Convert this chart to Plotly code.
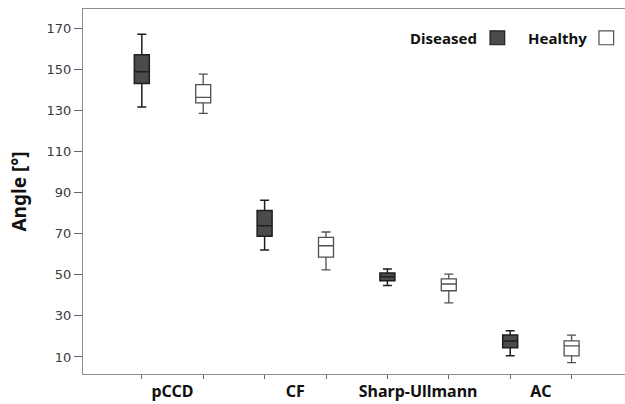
import plotly.graph_objects as go

categories = ["pCCD", "CF", "Sharp-Ullmann", "AC"]

# Diseased: lower whisker, Q1, median, Q3, upper whisker
dis_low = [131.6, 62.0, 44.8, 10.6]
dis_q1 = [143.0, 68.7, 47.1, 14.5]
dis_med = [148.8, 73.8, 49.0, 17.8]
dis_q3 = [157.0, 81.2, 50.8, 20.7]
dis_high = [167.0, 86.2, 52.8, 22.8]

# Healthy
hea_low = [128.5, 52.4, 36.3, 7.2]
hea_q1 = [133.6, 58.6, 42.2, 10.5]
hea_med = [136.3, 64.1, 45.5, 15.4]
hea_q3 = [142.5, 68.2, 48.0, 17.8]
hea_high = [147.6, 70.8, 50.3, 20.6]

y_ticks = [10, 30, 50, 70, 90, 110, 130, 150, 170]

BOLD = "Noto Sans"
fig = go.Figure()
fig.add_trace(go.Box(
    name="Diseased", x=categories, q1=dis_q1, median=dis_med, q3=dis_q3,
    lowerfence=dis_low, upperfence=dis_high,
    fillcolor="#4b4b4b", line=dict(color="#1e1e1e", width=1.5),
    whiskerwidth=0.6, boxpoints=False, showlegend=False,
))
fig.add_trace(go.Box(
    name="Healthy", x=categories, q1=hea_q1, median=hea_med, q3=hea_q3,
    lowerfence=hea_low, upperfence=hea_high,
    fillcolor="white", line=dict(color="#505050", width=1.3),
    whiskerwidth=0.6, boxpoints=False, showlegend=False,
))

n = len(categories)
xr = [-0.729, n - 0.315]
box_pos = [i + d for i in range(n) for d in (-0.25, 0.25)]

fig.update_layout(
    width=625, height=404,
    margin=dict(l=83, r=0, t=9, b=30, autoexpand=False),
    paper_bgcolor="white", plot_bgcolor="white",
    boxmode="group", boxgap=0, boxgroupgap=0.756,
    xaxis=dict(
        type="category", range=xr, showgrid=False, zeroline=False,
        showline=True, linecolor="#8c8c8c", linewidth=1.2, mirror=True,
        ticks="", ticklabelstandoff=3,
        tickfont=dict(family=BOLD, size=16, color="#111", weight="bold"),
    ),
    xaxis2=dict(
        type="linear", overlaying="x", anchor="y", side="bottom", range=xr,
        tickmode="array", tickvals=box_pos, showticklabels=False,
        ticks="outside", ticklen=4, tickcolor="#666", showgrid=False,
        zeroline=False, showline=False,
    ),
    yaxis=dict(
        range=[1.7, 179.3], tickmode="array", tickvals=y_ticks,
        ticks="outside", ticklen=8, tickcolor="#666", showgrid=False,
        zeroline=False, showline=True, linecolor="#8c8c8c", linewidth=1.2,
        tickfont=dict(family="DejaVu Sans", size=13, color="#3a3a3a"),
        title=dict(text="<b>Angle [°]</b>", standoff=14,
                   font=dict(family=BOLD, size=19, color="#111")),
    ),
)
# invisible trace to activate xaxis2
fig.add_trace(go.Scatter(x=[xr[0]], y=[1.7], xaxis="x2", mode="markers",
                         marker=dict(opacity=0), showlegend=False, hoverinfo="skip"))

# legend (text left of swatch)
fig.add_annotation(xref="paper", yref="paper", x=0.731, y=0.921, xanchor="right",
                   yanchor="middle", showarrow=False, text="<b>Diseased</b>",
                   font=dict(family=BOLD, size=15, color="#111"))
fig.add_annotation(xref="paper", yref="paper", x=0.934, y=0.921, xanchor="right",
                   yanchor="middle", showarrow=False, text="<b>Healthy</b>",
                   font=dict(family=BOLD, size=15, color="#111"))
fig.add_shape(type="rect", xref="paper", yref="paper", x0=0.751, x1=0.778,
              y0=0.902, y1=0.940, fillcolor="#4b4b4b", line=dict(color="#1e1e1e", width=1.2))
fig.add_shape(type="rect", xref="paper", yref="paper", x0=0.952, x1=0.979,
              y0=0.902, y1=0.940, fillcolor="white", line=dict(color="#505050", width=1.2))

fig.write_html("out.html", config={"displayModeBar": False},
               post_script="document.body.style.margin='0';document.body.style.overflow='hidden';")
